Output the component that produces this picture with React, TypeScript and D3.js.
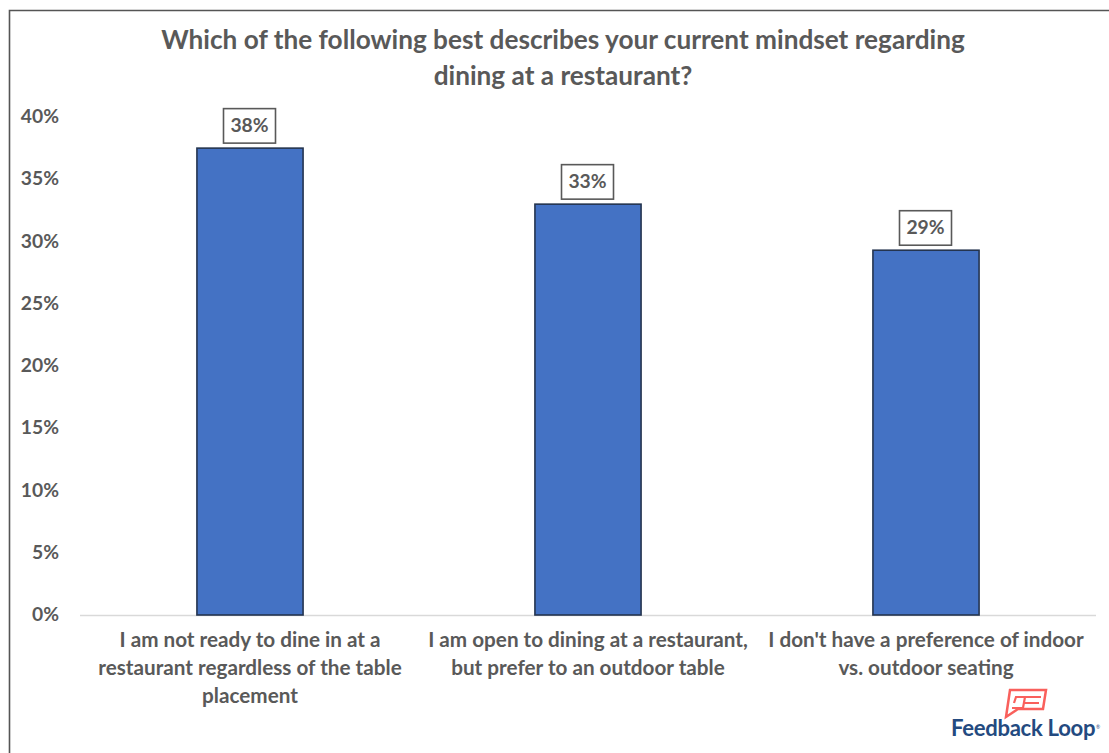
import React from "react";
import * as d3 from "d3";

const titleLines = [
  "Which of the following best describes your current mindset regarding",
  "dining at a restaurant?",
];
const categories = ["notReady", "outdoor", "noPreference"];
const categoryLines = [
  ["I am not ready to dine in at a", "restaurant regardless of the table", "placement"],
  ["I am open to dining at a restaurant,", "but prefer to an outdoor table"],
  ["I don't have a preference of indoor", "vs. outdoor seating"],
];
const values = [37.5, 33, 29.3];
const valueLabels = ["38%", "33%", "29%"];
const yTicks = [0, 5, 10, 15, 20, 25, 30, 35, 40];

const WIDTH = 1109;
const HEIGHT = 753;
const FONT = "Lato, 'Open Sans', sans-serif";
const TEXT = "#595959";

export default function App() {
  const x = d3.scaleBand<string>().domain(categories).range([81, 1095]).paddingInner(0.686).paddingOuter(0.343);
  const y = d3.scaleLinear().domain([0, 40]).range([615, 117]);

  return (
    <svg
      width={WIDTH}
      height={HEIGHT}
      viewBox={`0 0 ${WIDTH} ${HEIGHT}`}
      style={{ position: "fixed", left: 0, top: 0, background: "#fff" }}
    >
      {/* Chart frame, open at the right and bottom edges of the page */}
      <path d={`M9.5 ${HEIGHT} V10.5 H${WIDTH}`} fill="none" stroke="#555" strokeWidth={1.6} />

      {titleLines.map((line, i) => (
        <text key={line} x={563} y={49 + i * 35.5} textAnchor="middle" fontFamily={FONT} fontWeight={700} fontSize={26.2} fill={TEXT}>
          {line}
        </text>
      ))}

      {yTicks.map((t) => (
        <text key={t} x={59} y={y(t) + 6} textAnchor="end" fontFamily={FONT} fontWeight={700} fontSize={19.3} fill={TEXT}>
          {t}%
        </text>
      ))}

      <line x1={80} x2={1096} y1={y(0) + 0.5} y2={y(0) + 0.5} stroke="#d9d9d9" strokeWidth={1.5} />

      {categories.map((c, i) => {
        const bx = x(c)!;
        const cx = bx + x.bandwidth() / 2;
        const top = y(values[i]);
        return (
          <g key={c}>
            <rect x={bx} y={top} width={x.bandwidth()} height={y(0) - top} fill="#4472c4" stroke="#24344f" strokeWidth={1.6} />
            <rect x={cx - 26.5} y={top - 39.5} width={52} height={34.5} fill="#fff" stroke="#595959" strokeWidth={1.6} />
            <text x={cx - 0.5} y={top - 16} textAnchor="middle" fontFamily={FONT} fontWeight={700} fontSize={19.3} fill={TEXT}>
              {valueLabels[i]}
            </text>
            {categoryLines[i].map((line, j) => (
              <text key={line} x={cx} y={647 + j * 28} textAnchor="middle" fontFamily={FONT} fontWeight={700} fontSize={20.7} fill={TEXT}>
                {line}
              </text>
            ))}
          </g>
        );
      })}

      {/* Feedback Loop brand mark: speech bubble with stylised F */}
      <g fill="none" stroke="#f9605c" strokeWidth={2.5}>
        <path d="M1010 690 H1046 L1043 709 H1018 L1006 717 Z" />
        <path d="M1014 703 L1016 697 H1041 M1012 708 H1023 L1025 697 M1024 703 H1039" strokeWidth={2.2} />
      </g>
      <text x={951} y={736} fontFamily={FONT} fontWeight={700} fontSize={22.1} letterSpacing={-0.3} fill="#234a80">
        Feedback Loop
      </text>
      <text x={1096} y={729} fontFamily={FONT} fontSize={5} fill="#234a80">
        ®
      </text>
    </svg>
  );
}
